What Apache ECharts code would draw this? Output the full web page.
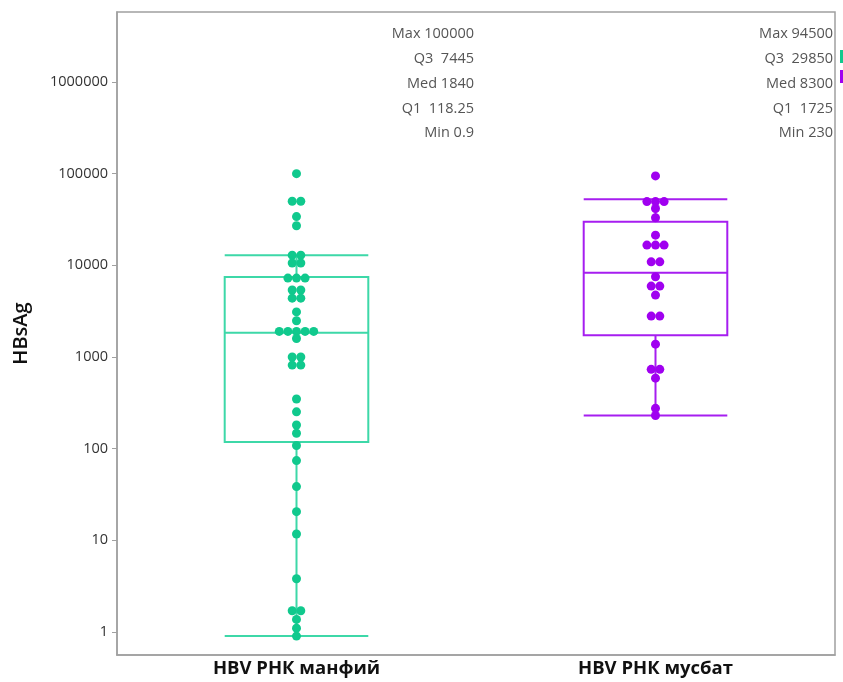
<!DOCTYPE html>
<html>
<head>
<meta charset="utf-8">
<script src="https://cdn.jsdelivr.net/npm/echarts@6/dist/echarts.min.js"></script>
<style>html,body{margin:0;padding:0;background:#fff}#c{width:843px;height:682px}</style>
</head>
<body>
<div id="c"></div>
<script>
var categories = ['HBV РНК манфий', 'HBV РНК мусбат'];
var yTickValues = [1, 10, 100, 1000, 10000, 100000, 1000000];
var negValues = [100000, 50000, 50000, 34000, 27000, 12900, 12900, 10600, 10600, 7250, 7250, 7250,
  5370, 5370, 4380, 4380, 3100, 2480, 1900, 1900, 1900, 1900, 1900, 1590, 1000, 1000, 815, 815,
  348, 252, 181, 147, 108, 74, 38.5, 20.5, 11.7, 3.8, 1.7, 1.7, 1.37, 1.1, 0.9];
var posValues = [94500, 49500, 49500, 49500, 41700, 33000, 21300, 16600, 16600, 16600, 10900, 10900,
  7500, 5930, 5930, 4730, 2790, 2790, 1380, 733, 733, 587, 275, 230];
// [lower whisker, Q1, median, Q3, upper whisker]
var negBox = [0.9, 118.25, 1840, 7445, 12900];
var posBox = [230, 1725, 8300, 29850, 52700];
var negStats = ['Max 100000', 'Q3  7445', 'Med 1840', 'Q1  118.25', 'Min 0.9'];
var posStats = ['Max 94500', 'Q3  29850', 'Med 8300', 'Q1  1725', 'Min 230'];

var green = '#10c98d', greenLine = '#3dd8a8';
var purple = '#a000f0', purpleLine = '#a61ef0';
var dotStep = 8.6;

function swarm(values, catIdx) {
  var counts = {};
  values.forEach(function (v) { counts[v] = (counts[v] || 0) + 1; });
  var seen = {};
  return values.map(function (v) {
    var n = counts[v];
    var i = seen[v] || 0;
    seen[v] = i + 1;
    return { value: [catIdx, v], symbolOffset: [(i - (n - 1) / 2) * dotStep, 0] };
  });
}

function statTexts(lines, rightX) {
  return lines.map(function (t, i) {
    return {
      type: 'text', x: rightX, y: 34 + i * 24.8,
      style: { text: t, fill: '#555', fontSize: 14.5, fontFamily: 'Open Sans', align: 'right', verticalAlign: 'middle' }
    };
  });
}

var chart = echarts.init(document.getElementById('c'), null, { renderer: 'canvas' });
chart.setOption({
  animation: false,
  backgroundColor: '#fff',
  grid: { left: 117, right: 8, top: 12, bottom: 27, show: true, borderColor: '#a0a0a0', borderWidth: 1.5 },
  legend: {
    data: ['neg', 'pos'], orient: 'vertical', right: -7, top: 50, itemWidth: 10, itemHeight: 13,
    itemGap: 7, icon: 'rect', formatter: function () { return ''; }, selectedMode: false, padding: 0
  },
  xAxis: {
    type: 'category', data: categories,
    axisLine: { lineStyle: { color: '#a0a0a0', width: 1.5 } },
    axisTick: { show: false },
    axisLabel: { color: '#111', fontSize: 18.5, fontWeight: 'bold', fontFamily: 'Open Sans', margin: 4 }
  },
  yAxis: {
    type: 'log', logBase: 10, min: 0.56, max: 5.8e6,
    name: 'HBsAg', nameLocation: 'middle', nameGap: 86,
    nameTextStyle: { color: '#111', fontSize: 20, fontWeight: 600, fontFamily: 'Open Sans' },
    axisLine: { show: true, lineStyle: { color: '#a0a0a0', width: 1.5 } },
    axisTick: { show: true, length: 5, lineStyle: { color: '#a0a0a0' }, customValues: yTickValues },
    splitLine: { show: false },
    axisLabel: {
      color: '#333', fontSize: 14.5, fontFamily: 'Open Sans', margin: 9,
      customValues: yTickValues,
      formatter: function (v) { return String(Math.round(v)); }
    }
  },
  graphic: statTexts(negStats, 474).concat(statTexts(posStats, 833)),
  series: [
    {
      name: 'box', type: 'boxplot', boxWidth: ['40%', '40%'],
      data: [{ value: negBox, itemStyle: { color: 'rgba(0,0,0,0)', borderColor: greenLine, borderWidth: 2 } },
             { value: posBox, itemStyle: { color: 'rgba(0,0,0,0)', borderColor: purpleLine, borderWidth: 2 } }],
      z: 1
    },
    { name: 'neg', type: 'scatter', symbol: 'circle', symbolSize: 9, itemStyle: { color: green, opacity: 1 }, data: swarm(negValues, 0), z: 3 },
    { name: 'pos', type: 'scatter', symbol: 'circle', symbolSize: 9, itemStyle: { color: purple, opacity: 1 }, data: swarm(posValues, 1), z: 3 }
  ]
});
</script>
</body>
</html>
